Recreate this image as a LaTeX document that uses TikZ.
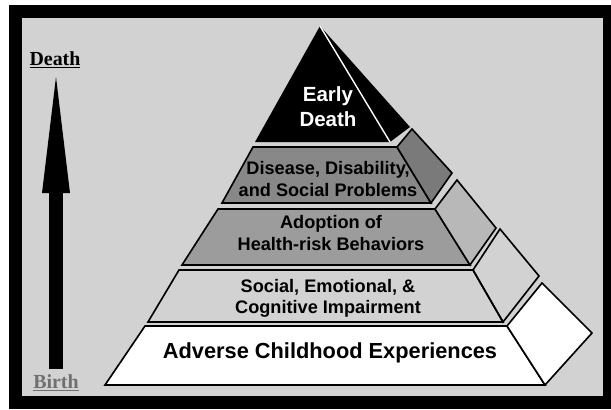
\documentclass[tikz,border=0pt]{standalone}
\usepackage{fontspec}
\setmainfont{Liberation Sans}
\newfontfamily\timesfont{Liberation Serif}
\usetikzlibrary{arrows.meta}
\definecolor{fond}{HTML}{D2D2D2}
\definecolor{grisA}{HTML}{888888}
\definecolor{grisAc}{HTML}{7A7A7A}
\definecolor{grisB}{HTML}{9C9C9C}
\definecolor{grisBc}{HTML}{B8B8B8}
\definecolor{grisnaiss}{HTML}{707070}
\tikzset{
  face/.style={draw=black, line width=1.4pt, line join=miter},
  etiq/.style={font=\fontsize{15.5}{18}\selectfont\bfseries, align=center, inner sep=0pt},
  borne/.style={font=\timesfont\fontsize{17}{20}\selectfont\bfseries, inner sep=0pt, anchor=base}
}
\begin{document}
\begin{tikzpicture}[x=0.03cm,y=-0.03cm]
%cadre
\fill[white] (0,0) rectangle (611,409);
\fill[black] (9,5) rectangle (611,409);
\fill[fond] (22,18) rectangle (603,396);
\useasboundingbox (0,0) rectangle (611,409);
%fin
%niveau 1
\draw[face,fill=white] (105,385) -- (145,326) -- (507,326) -- (545,385) -- cycle;
\draw[face,fill=white] (507,326) -- (542,283) -- (592,333) -- (545,385) -- cycle;
%niveau 2
\draw[face] (148,322) -- (179,270) -- (473,270) -- (503,322) -- cycle;
\draw[face] (473,270) -- (500,229) -- (539,276) -- (503,322) -- cycle;
%niveau 3
\draw[face,fill=grisB] (182,265) -- (218,209) -- (435,209) -- (470,265) -- cycle;
\draw[face,fill=grisBc] (435,209) -- (457,180) -- (496,228) -- (470,265) -- cycle;
%niveau 4
\draw[face,fill=grisA] (222,203) -- (253,147) -- (397,147) -- (431,203) -- cycle;
\draw[face,fill=grisAc] (397,147) -- (412,129) -- (452,173) -- (431,203) -- cycle;
%sommet
\fill[black] (320,26) -- (410,127) -- (390,142) -- (255,142) -- cycle;
\draw[white, line width=1.2pt] (320,26) -- (390,142);
%fin
%textes
\node[etiq, text=white, font=\fontsize{17.5}{21.3}\selectfont\bfseries] (mort) at (328,107) {Early\\Death};
\node[etiq] (maladie) at (328,179) {Disease, Disability,\\and Social Problems};
\node[etiq] (risque) at (331,233) {Adoption of\\Health-risk Behaviors};
\node[etiq] (trouble) at (328,298) {Social, Emotional, \&\\Cognitive Impairment};
\node[etiq, font=\fontsize{18.6}{21}\selectfont\bfseries, anchor=base] (ace) at (330,358) {Adverse Childhood Experiences};
%axe du temps
\node[borne] (deces) at (55,65) {\underline{Death}};
\node[borne, text=grisnaiss] (naiss) at (56,388) {\underline{Birth}};
\coordinate (pointe) at (56,77);
\draw[line width=0.42cm, -{Triangle[length=3.48cm, width=0.84cm, line width=0pt]}, shorten <=0.15cm]
  (naiss.north) -- (pointe);
\end{tikzpicture}
\end{document}
